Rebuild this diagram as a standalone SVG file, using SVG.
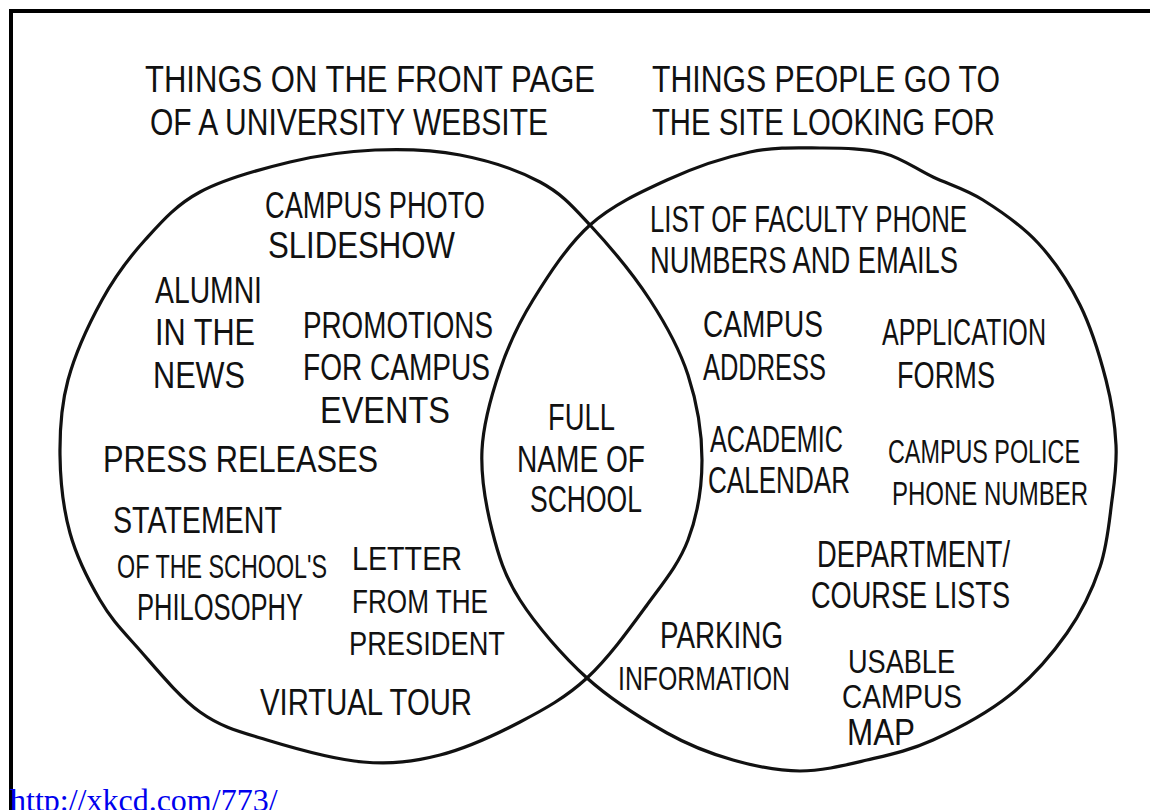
<svg xmlns="http://www.w3.org/2000/svg" width="1150" height="810" viewBox="0 0 1150 810">
  <style>
    .ink { fill: none; stroke: #111; stroke-width: 3.2; stroke-linejoin: round; stroke-linecap: round; }
    .frame { fill: none; stroke: #000; stroke-width: 4; }
    .t { font-family: "Liberation Sans", Arial, sans-serif; font-size: 37px; fill: #111; }
    .s { font-size: 34px; }
    .link { font-family: "Liberation Serif", "Times New Roman", serif; font-size: 32px; fill: #0000ee; }
  </style>
  <rect width="1150" height="810" fill="#fff"/>

  <!-- panel frame -->
  <path class="frame" d="M 11,810 V 11 H 1150"/>

  <!-- set headings -->
  <g id="heading-front-page">
    <text class="t" x="145" y="92" textLength="450" lengthAdjust="spacingAndGlyphs">THINGS ON THE FRONT PAGE</text>
    <text class="t" x="150" y="135" textLength="398" lengthAdjust="spacingAndGlyphs">OF A UNIVERSITY WEBSITE</text>
  </g>
  <g id="heading-looking-for">
    <text class="t" x="652" y="92" textLength="348" lengthAdjust="spacingAndGlyphs">THINGS PEOPLE GO TO</text>
    <text class="t" x="652" y="135" textLength="343" lengthAdjust="spacingAndGlyphs">THE SITE LOOKING FOR</text>
  </g>

  <!-- the two hand-drawn sets -->
  <g id="sets">
    <path id="set-front-page" class="ink" d="M 60,455 C 59.7,429.5 61,405.8 68,380 C 75,354.2 89.2,323.3 102,300 C 114.8,276.7 128.7,258 145,240 C 161.3,222 175.8,205 200,192 C 224.2,179 260.8,169 290,162 C 319.2,155 346.7,151.2 375,150 C 403.3,148.8 432.5,149.7 460,155 C 487.5,160.3 518.3,170.3 540,182 C 561.7,193.7 571.7,205.3 590,225 C 608.3,244.7 633.7,275 650,300 C 666.3,325 679.3,348.3 688,375 C 696.7,401.7 702,432.5 702,460 C 702,487.5 697.2,515.8 688,540 C 678.8,564.2 663.8,582 647,605 C 630.2,628 608.2,658.5 587,678 C 565.8,697.5 544.5,709.2 520,722 C 495.5,734.8 466.2,748.3 440,755 C 413.8,761.7 391.8,764.5 363,762 C 334.2,759.5 294.2,748.3 267,740 C 239.8,731.7 221.7,727.5 200,712 C 178.3,696.5 153.7,665.7 137,647 C 120.3,628.3 111.2,619 100,600 C 88.8,581 76.7,557.2 70,533 C 63.3,508.8 60.3,480.5 60,455 Z"/>
    <path id="set-looking-for" class="ink" d="M 482,450 C 483.3,423.3 491.5,395 500,370 C 508.5,345 518,324.2 533,300 C 548,275.8 567.7,245 590,225 C 612.3,205 640.3,192.2 667,180 C 693.7,167.8 724.5,157.3 750,152 C 775.5,146.7 797.8,147.8 820,148 C 842.2,148.2 864.2,148.2 883,153 C 901.8,157.8 916.3,169.2 933,177 C 949.7,184.8 965.5,189 983,200 C 1000.5,211 1021.8,225.5 1038,243 C 1054.2,260.5 1068.7,282.2 1080,305 C 1091.3,327.8 1100,356.7 1106,380 C 1112,403.3 1115,425 1116,445 C 1117,465 1114.7,479.7 1112,500 C 1109.3,520.3 1107.5,544.8 1100,567 C 1092.5,589.2 1082,611.7 1067,633 C 1052,654.3 1032.3,677.2 1010,695 C 987.7,712.8 956.8,729.2 933,740 C 909.2,750.8 889.2,754.8 867,760 C 844.8,765.2 822.3,771 800,771 C 777.7,771 755.2,766.3 733,760 C 710.8,753.7 691.3,746.7 667,733 C 642.7,719.3 611.5,700.2 587,678 C 562.5,655.8 535.8,624.7 520,600 C 504.2,575.3 498.3,555 492,530 C 485.7,505 480.7,476.7 482,450 Z"/>
  </g>

  <!-- front page only -->
  <g id="campus-photo-slideshow">
    <text class="t" x="265" y="218" textLength="220" lengthAdjust="spacingAndGlyphs">CAMPUS PHOTO</text>
    <text class="t" x="268" y="258" textLength="187" lengthAdjust="spacingAndGlyphs">SLIDESHOW</text>
  </g>
  <g id="alumni-in-the-news">
    <text class="t" x="155" y="303" textLength="107" lengthAdjust="spacingAndGlyphs">ALUMNI</text>
    <text class="t" x="155" y="345" textLength="100" lengthAdjust="spacingAndGlyphs">IN THE</text>
    <text class="t" x="153" y="388" textLength="92" lengthAdjust="spacingAndGlyphs">NEWS</text>
  </g>
  <g id="promotions">
    <text class="t" x="303" y="338" textLength="190" lengthAdjust="spacingAndGlyphs">PROMOTIONS</text>
    <text class="t" x="303" y="380" textLength="187" lengthAdjust="spacingAndGlyphs">FOR CAMPUS</text>
    <text class="t" x="320" y="423" textLength="130" lengthAdjust="spacingAndGlyphs">EVENTS</text>
  </g>
  <g id="press-releases">
    <text class="t" x="103" y="472" textLength="275" lengthAdjust="spacingAndGlyphs">PRESS RELEASES</text>
  </g>
  <g id="philosophy">
    <text class="t" x="113" y="533" textLength="169" lengthAdjust="spacingAndGlyphs">STATEMENT</text>
    <text class="t s" x="117" y="578" textLength="210" lengthAdjust="spacingAndGlyphs">OF THE SCHOOL'S</text>
    <text class="t" x="137" y="620" textLength="166" lengthAdjust="spacingAndGlyphs">PHILOSOPHY</text>
  </g>
  <g id="president-letter">
    <text class="t s" x="352" y="570" textLength="110" lengthAdjust="spacingAndGlyphs">LETTER</text>
    <text class="t s" x="352" y="613" textLength="136" lengthAdjust="spacingAndGlyphs">FROM THE</text>
    <text class="t s" x="349" y="655" textLength="156" lengthAdjust="spacingAndGlyphs">PRESIDENT</text>
  </g>
  <g id="virtual-tour">
    <text class="t" x="260" y="715" textLength="212" lengthAdjust="spacingAndGlyphs">VIRTUAL TOUR</text>
  </g>

  <!-- overlap -->
  <g id="school-name">
    <text class="t" x="548" y="430" textLength="67" lengthAdjust="spacingAndGlyphs">FULL</text>
    <text class="t" x="517" y="472" textLength="128" lengthAdjust="spacingAndGlyphs">NAME OF</text>
    <text class="t" x="530" y="512" textLength="112" lengthAdjust="spacingAndGlyphs">SCHOOL</text>
  </g>

  <!-- looking for only -->
  <g id="faculty-contacts">
    <text class="t" x="650" y="232" textLength="317" lengthAdjust="spacingAndGlyphs">LIST OF FACULTY PHONE</text>
    <text class="t" x="650" y="273" textLength="308" lengthAdjust="spacingAndGlyphs">NUMBERS AND EMAILS</text>
  </g>
  <g id="campus-address">
    <text class="t" x="703" y="337" textLength="120" lengthAdjust="spacingAndGlyphs">CAMPUS</text>
    <text class="t" x="703" y="380" textLength="123" lengthAdjust="spacingAndGlyphs">ADDRESS</text>
  </g>
  <g id="application-forms">
    <text class="t" x="882" y="345" textLength="164" lengthAdjust="spacingAndGlyphs">APPLICATION</text>
    <text class="t" x="897" y="388" textLength="98" lengthAdjust="spacingAndGlyphs">FORMS</text>
  </g>
  <g id="academic-calendar">
    <text class="t" x="710" y="452" textLength="133" lengthAdjust="spacingAndGlyphs">ACADEMIC</text>
    <text class="t" x="708" y="493" textLength="142" lengthAdjust="spacingAndGlyphs">CALENDAR</text>
  </g>
  <g id="campus-police">
    <text class="t s" x="888" y="463" textLength="192" lengthAdjust="spacingAndGlyphs">CAMPUS POLICE</text>
    <text class="t s" x="892" y="505" textLength="196" lengthAdjust="spacingAndGlyphs">PHONE NUMBER</text>
  </g>
  <g id="course-lists">
    <text class="t" x="817" y="567" textLength="193" lengthAdjust="spacingAndGlyphs">DEPARTMENT/</text>
    <text class="t" x="811" y="608" textLength="199" lengthAdjust="spacingAndGlyphs">COURSE LISTS</text>
  </g>
  <g id="parking-information">
    <text class="t" x="660" y="648" textLength="123" lengthAdjust="spacingAndGlyphs">PARKING</text>
    <text class="t s" x="618" y="690" textLength="172" lengthAdjust="spacingAndGlyphs">INFORMATION</text>
  </g>
  <g id="campus-map">
    <text class="t s" x="848" y="673" textLength="107" lengthAdjust="spacingAndGlyphs">USABLE</text>
    <text class="t s" x="842" y="708" textLength="120" lengthAdjust="spacingAndGlyphs">CAMPUS</text>
    <text class="t" x="847" y="745" textLength="68" lengthAdjust="spacingAndGlyphs">MAP</text>
  </g>

  <!-- source link -->
  <text class="link" x="10" y="811">http://xkcd.com/773/</text>
</svg>
